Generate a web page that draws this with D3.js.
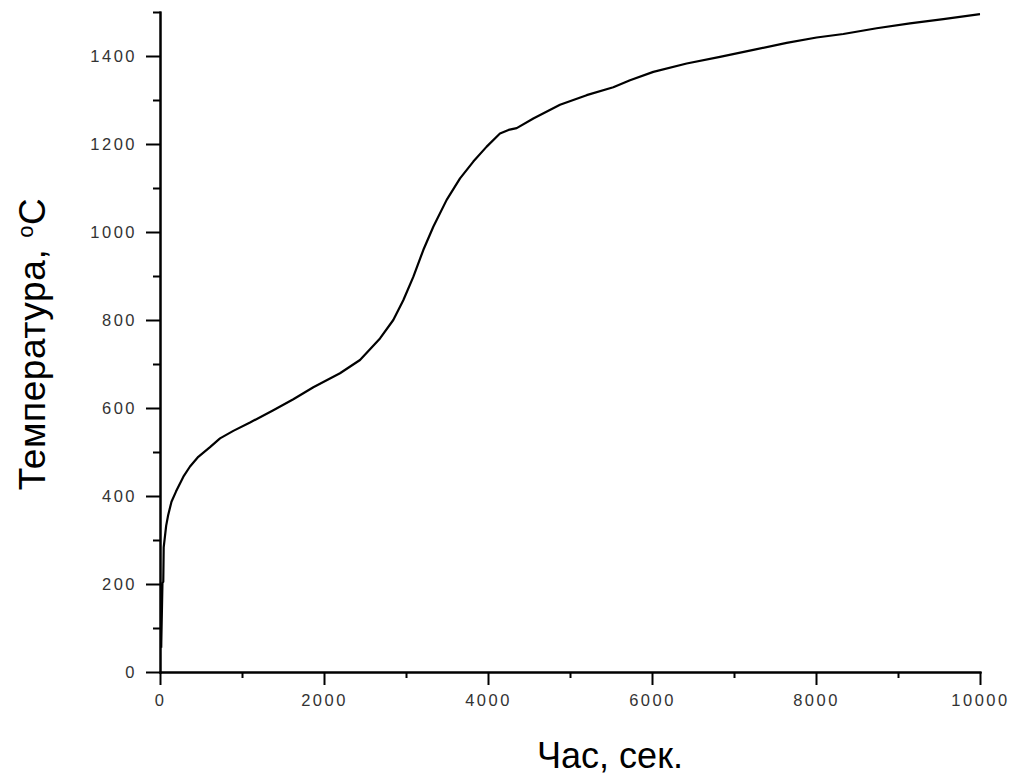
<!DOCTYPE html>
<html>
<head>
<meta charset="utf-8">
<script src="https://cdn.jsdelivr.net/npm/d3@7"></script>
<style>
  body { margin: 0; background: #fff; }
  .axis text { font-family: Arial, "Liberation Sans", sans-serif; font-size: 16.5px; letter-spacing: 2.5px; fill: #333; }
  .axis path, .axis line { stroke: #000; stroke-width: 2; }
  .title { font-family: Arial, "Liberation Sans", sans-serif; fill: #000; }
</style>
</head>
<body>
<div id="chart"></div>
<script>

// Time, s
var timeSec = [15, 25, 15, 30, 40, 45, 75, 100, 140, 195, 285, 366, 467, 610, 732, 894, 1098, 1382, 1626, 1870,
    2195, 2439, 2683, 2845, 2967, 3089, 3211, 3333, 3496, 3659, 3821, 3984, 4146, 4250, 4350, 4553, 4878, 5203,
    5528, 5732, 6016, 6423, 6829, 7236, 7642, 8008, 8333, 8740, 9146, 9553, 10000];
// Temperature, C
var tempC = [55, 200, 60, 203, 205, 283, 332, 357, 387, 410, 444, 467, 489, 511, 531, 548, 567, 595, 620, 647,
    679, 709, 758, 800, 845, 898, 959, 1012, 1073, 1122, 1160, 1194, 1224, 1232, 1236, 1258, 1289, 1311,
    1329, 1345, 1364, 1383, 1398, 1414, 1430, 1442, 1450, 1463, 1474, 1484, 1495];

var xMajor = [0, 2000, 4000, 6000, 8000, 10000];
var xMinor = [1000, 3000, 5000, 7000, 9000];
var yMajor = [0, 200, 400, 600, 800, 1000, 1200, 1400];
var yMinor = [100, 300, 500, 700, 900, 1100, 1300, 1500];

var width = 1019, height = 776;
var margin = { top: 12, right: 39, bottom: 104, left: 160 };
var w = width - margin.left - margin.right;
var h = height - margin.top - margin.bottom;

var svg = d3.select("#chart").append("svg")
    .attr("width", width)
    .attr("height", height);

var g = svg.append("g")
    .attr("transform", "translate(" + margin.left + "," + margin.top + ")");

var x = d3.scaleLinear().domain([0, 10000]).range([0, w]);
var y = d3.scaleLinear().domain([0, 1500]).range([h, 0]);

// minor ticks first, majors draw the axis line
g.append("g")
    .attr("class", "axis")
    .attr("transform", "translate(0," + h + ")")
    .call(d3.axisBottom(x).tickValues(xMinor).tickSize(6).tickSizeOuter(0).tickFormat(""));

g.append("g")
    .attr("class", "axis")
    .call(d3.axisLeft(y).tickValues(yMinor).tickSize(7).tickSizeOuter(0).tickFormat(""));

g.append("g")
    .attr("class", "axis x-axis")
    .attr("transform", "translate(0," + h + ")")
    .call(d3.axisBottom(x).tickValues(xMajor).tickSize(13).tickSizeOuter(0).tickPadding(9).tickFormat(d3.format("d")));

g.append("g")
    .attr("class", "axis y-axis")
    .call(d3.axisLeft(y).tickValues(yMajor).tickSize(14).tickSizeOuter(0).tickPadding(9).tickFormat(d3.format("d")));

g.selectAll(".axis path.domain").attr("stroke-linecap", "square");

var line = d3.line()
    .x(function(d, i) { return x(timeSec[i]); })
    .y(function(d) { return y(d); });

g.append("path")
    .datum(tempC)
    .attr("fill", "none")
    .attr("stroke", "#000")
    .attr("stroke-width", 2.2)
    .attr("stroke-linejoin", "round")
    .attr("d", line);

// axis titles
svg.append("text")
    .attr("class", "title")
    .attr("x", 610)
    .attr("y", 768)
    .attr("text-anchor", "middle")
    .style("font-size", "36px")
    .text("Час, сек.");

var yt = svg.append("text")
    .attr("class", "title")
    .attr("transform", "translate(45,344) rotate(-90)")
    .attr("text-anchor", "middle")
    .style("font-size", "37px")
    .style("letter-spacing", "0.6px");
yt.append("tspan").text("Температура, ");
yt.append("tspan").attr("dy", -12).style("font-size", "22px").text("o");
yt.append("tspan").attr("dy", 12).text("C");

</script>
</body>
</html>
